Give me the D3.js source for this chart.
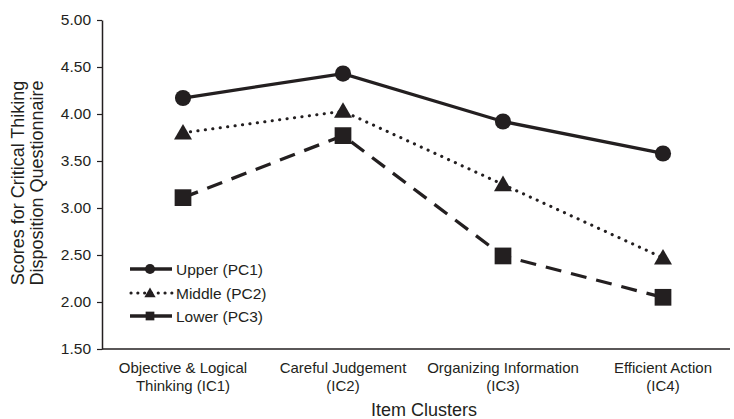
<!DOCTYPE html>
<html><head><meta charset="utf-8">
<script src="https://cdn.jsdelivr.net/npm/d3@7"></script>
<style>body{margin:0;background:#fff}text{font-family:"Liberation Sans",Arial,sans-serif;fill:#231f20}</style>
</head><body><svg id="c" width="734" height="419"></svg>
<script>
const categories = ["Objective & Logical|Thinking (IC1)","Careful Judgement|(IC2)","Organizing Information|(IC3)","Efficient Action|(IC4)"];
const seriesNames = ["Upper (PC1)","Middle (PC2)","Lower (PC3)"];
const upper = [4.17, 4.43, 3.92, 3.58];
const middle = [3.80, 4.03, 3.25, 2.47];
const lower = [3.11, 3.77, 2.49, 2.05];
const yTicks = [1.5,2.0,2.5,3.0,3.5,4.0,4.5,5.0];
const ink = "#231f20";

(function(){
const svg = d3.select("#c");
const mL = 102, mR = 730, mT = 20, mB = 349;
const x = d3.scalePoint().domain(categories).range([183, 663]);
const y = d3.scaleLinear().domain([1.5, 5]).range([mB, mT]);

// y axis
const ya = svg.append("g").attr("transform", `translate(${mL},0)`)
  .call(d3.axisLeft(y).tickValues(yTicks).tickFormat(d3.format(".2f")).tickSize(5).tickSizeOuter(0));
ya.select(".domain").attr("stroke", ink).attr("stroke-width", 1.5);
ya.selectAll(".tick line").attr("stroke", ink).attr("stroke-width", 1.2);
ya.selectAll(".tick text").attr("font-size", 15.5).attr("x", -11).style("font-family","Liberation Sans, Arial, sans-serif").attr("fill", ink);

// x axis baseline
svg.append("line").attr("x1", mL).attr("x2", mR).attr("y1", mB).attr("y2", mB)
  .attr("stroke", ink).attr("stroke-width", 1.5);

// x labels
categories.forEach(c => {
  const parts = c.split("|");
  const t = svg.append("text").attr("x", x(c)).attr("y", 372.5).attr("text-anchor", "middle").attr("font-size", 15);
  parts.forEach((p, i) => t.append("tspan").attr("x", x(c)).attr("dy", i ? 18 : 0).text(p));
});

svg.append("text").attr("x", 424).attr("y", 415.5).attr("text-anchor", "middle").attr("font-size", 18).text("Item Clusters");

const yt = svg.append("text").attr("transform", "translate(0,183) rotate(-90)").attr("text-anchor", "middle").attr("font-size", 18);
yt.append("tspan").attr("x", 0).attr("y", 24).text("Scores for Critical Thiking");
yt.append("tspan").attr("x", 0).attr("y", 43).text("Disposition Questionnaire");

const styles = [
  {data: upper, dash: null, width: 3.3, cap: "butt", sym: d3.symbolCircle, size: 205, lsize: 80},
  {data: middle, dash: "0.1 7.4", width: 3.1, cap: "round", sym: d3.symbolTriangle, size: 140, lsize: 55},
  {data: lower, dash: "16 10", width: 3.3, cap: "butt", sym: d3.symbolSquare, size: 280, lsize: 76}
];
const line = d3.line().x((d, i) => x(categories[i])).y(d => y(d));

styles.forEach(s => {
  svg.append("path").attr("d", line(s.data)).attr("fill", "none").attr("stroke", ink)
    .attr("stroke-width", s.width).attr("stroke-dasharray", s.dash).attr("stroke-linecap", s.cap);
  s.data.forEach((v, i) => {
    svg.append("path").attr("d", d3.symbol().type(s.sym).size(s.size)())
      .attr("transform", `translate(${x(categories[i])},${y(v) + (s.sym === d3.symbolTriangle ? 1.5 : 0)})`)
      .attr("fill", ink);
  });
});

// legend
const ly = [269, 293, 316];
styles.forEach((s, i) => {
  const g = svg.append("g").attr("transform", `translate(0,${ly[i]})`);
  g.append("line").attr("x1", i === 1 ? 131 : 130).attr("x2", 172).attr("y1", 0).attr("y2", 0).attr("stroke", ink)
    .attr("stroke-width", s.width).attr("stroke-dasharray", i === 1 ? "0.1 6.7" : null).attr("stroke-linecap", s.cap);
  g.append("path").attr("d", d3.symbol().type(s.sym).size(s.lsize)()).attr("transform", `translate(150,${i === 1 ? 1 : 0})`).attr("fill", ink);
  g.append("text").attr("x", 176).attr("y", 5.5).attr("font-size", 15.5).text(seriesNames[i]);
});
})();
</script></body></html>
